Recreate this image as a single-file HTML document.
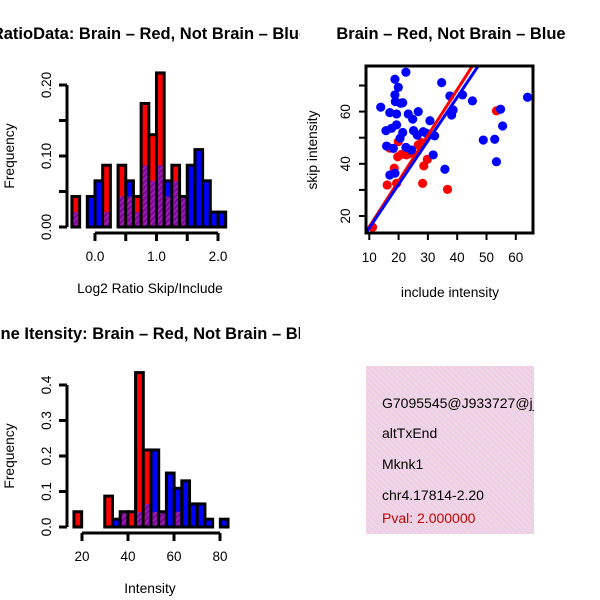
<!DOCTYPE html>
<html><head><meta charset="utf-8"><style>
html,body{margin:0;padding:0;background:#fff}
svg{display:block;font-family:"Liberation Sans",sans-serif}
</style></head><body>
<svg width="600" height="600" viewBox="0 0 600 600" id="fig">
<defs>
<pattern id="hatch" width="4" height="4" patternUnits="userSpaceOnUse" patternTransform="rotate(45)">
<rect width="4" height="4" fill="#7a0a98"/><rect width="1.5" height="4" fill="#a020b8"/>
</pattern>
<pattern id="pinkhatch" width="4" height="4" patternUnits="userSpaceOnUse" patternTransform="rotate(-45)">
<rect width="4" height="4" fill="#f6d0f0"/><rect width="1.2" height="4" fill="#ddd8cc"/>
</pattern>
<clipPath id="c1"><rect x="0" y="0" width="300" height="300"/></clipPath>
<clipPath id="c3"><rect x="0" y="300" width="300" height="300"/></clipPath>
<clipPath id="cs"><rect x="366" y="66" width="167" height="167"/></clipPath>
<clipPath id="cb"><rect x="366" y="366" width="168" height="168"/></clipPath>
</defs>
<g id="p1" clip-path="url(#c1)"></g>
<g id="p2"></g>
<g id="p3" clip-path="url(#c3)"></g>
<g id="p4">
<rect x="366" y="366" width="168" height="168" fill="url(#pinkhatch)"/>
<g clip-path="url(#cb)" font-size="14">
<text x="382" y="408">G7095545@J933727@j_2</text>
<text x="382" y="438">altTxEnd</text>
<text x="382" y="469">Mknk1</text>
<text x="382" y="500">chr4.17814-2.20</text>
<text x="382" y="523" fill="#c00000">Pval: 2.000000</text>
</g>
</g>
</svg>
<script>
// ---- Histogram 1 data (Log2 ratio) ----
const h1Start = -0.375;
const h1Width = 0.125;
const h1Red = [0.043,0,0,0,0.087,0,0.087,0.043,0.043,0.174,0.130,0.217,0.043,0.087,0.043,0,0,0,0,0];
const h1Blue = [0.021,0,0.043,0.065,0.021,0,0.043,0.065,0.021,0.087,0.065,0.087,0.065,0.065,0.043,0.087,0.109,0.065,0.021,0.021];
const h1XTicks = [0,0.5,1,1.5,2];
const h1XLabels = ["0.0","","1.0","","2.0"];
const h1YTicks = [0,0.05,0.1,0.15,0.2];
const h1YLabels = ["0.00","","0.10","","0.20"];
// ---- Histogram 2 data (Intensity) ----
const h2Start = 16.5;
const h2Width = 3.35;
const h2Red = [0.043,0,0,0,0.087,0,0.043,0.043,0.435,0.217,0.043,0.043,0,0.043,0,0,0,0,0,0];
const h2Blue = [0,0,0,0,0,0.022,0.043,0,0.043,0.065,0.217,0.043,0.152,0.109,0.130,0.065,0.065,0.022,0,0.022];
const h2XTicks = [20,40,60,80];
const h2XLabels = ["20","40","60","80"];
const h2YTicks = [0,0.1,0.2,0.3,0.4];
const h2YLabels = ["0.0","0.1","0.2","0.3","0.4"];
// ---- Scatter data ----
const redX = [11.1,16.1,18.5,19.7,19.9,21,22.7,23.9,17,26.7,27.8,28.6,29.8,28.2,36.7,53.4,19.3];
const redY = [15.7,31.9,38.3,42.7,48.5,43.6,43.4,44,46,47.2,48.1,39.2,41.7,32.5,30.2,60.3,32.5];
const blueX = [22.5,18.75,19.9,18.75,18.9,20.7,21.4,13.9,17,19.3,23.3,24.8,26.7,30.7,34.7,37.5,41.8,45.2,38.6,38.1,15.7,17.6,19.3,21.4,25.1,28.4,26.4,29.5,32.3,20.5,15.9,18.2,22.5,24.4,31.8,35.8,17,18.75,48.9,52.8,53.4,55.5,54.8,64];
const blueY = [75.1,72.4,69.3,66.4,63.8,63.2,63.4,61.7,59.6,59.1,59.1,57.1,60,56.5,71.1,66,66.4,64.1,60.6,58.7,52.7,53.6,54.9,52,52.7,52.3,51,51.7,50.7,49.8,46.8,45.9,46.3,45.3,43.4,37.9,35.7,36.4,49.1,49.4,40.8,54.5,60.9,65.5];
const redFit = [-1.6, 1.75];   // intercept, slope
const blueFit = [-1.3, 1.67];
const sXTicks = [10,20,30,40,50,60];
const sYTicks = [20,30,40,50,60,70];
const sYLabels = ["20","","40","","60",""];

const NS = "http://www.w3.org/2000/svg";
function mk(parent, tag, attrs){const e=document.createElementNS(NS,tag);for(const k in attrs)e.setAttribute(k,attrs[k]);parent.appendChild(e);return e;}

function hist(g, start, width, red, blue, sx, sy, xt, xl, yt, yl, axY, axX, xlab, ylab, title, tx){
  const y0 = sy(0);
  for(let i=0;i<red.length;i++){
    const r=red[i], b=blue[i], mx=Math.max(r,b), mn=Math.min(r,b);
    const x1=sx(start+i*width), x2=sx(start+(i+1)*width);
    const col = r>b ? "#ff0000" : (b>r ? "#0000ff" : "url(#hatch)");
    const bar = mk(g,"rect",{x:x1,y:sy(mx),width:x2-x1,height:y0-sy(mx),fill:col,stroke:"#000","stroke-width":3});
    
    
    if(mn>0 && r!==b){
      const ov = mk(g,"rect",{x:x1+1.5,y:sy(mn),width:x2-x1-3,height:y0-sy(mn)-1.5,fill:"url(#hatch)"});
      
      
    }
  }
  const ya = mk(g,"line",{x1:axX,x2:axX,y1:sy(yt[0]),y2:sy(yt[yt.length-1]),stroke:"#000","stroke-width":3});
  
  
  yt.forEach((v,i)=>{
    mk(g,"line",{x1:axX-8,x2:axX,y1:sy(v),y2:sy(v),stroke:"#000","stroke-width":3});
    if(yl[i]){const t=mk(g,"text",{x:0,y:0,"font-size":13.5,"text-anchor":"middle",transform:`translate(${axX-16},${sy(v)}) rotate(-90)`});t.textContent=yl[i];
      
      }
  });
  const xa = mk(g,"line",{x1:sx(xt[0]),x2:sx(xt[xt.length-1]),y1:axY,y2:axY,stroke:"#000","stroke-width":3});
  
  
  xt.forEach((v,i)=>{
    mk(g,"line",{x1:sx(v),x2:sx(v),y1:axY,y2:axY+8,stroke:"#000","stroke-width":3});
    if(xl[i]){const t=mk(g,"text",{x:sx(v),y:axY+28,"font-size":13.5,"text-anchor":"middle"});t.textContent=xl[i];
      
      }
  });
  const a=mk(g,"text",{x:150,y:axY+60,"font-size":13.8,"text-anchor":"middle"});a.textContent=xlab;
  
  
  const b=mk(g,"text",{x:0,y:0,"font-size":13.8,"text-anchor":"middle",transform:`translate(14,${(sy(0)+sy(yt[yt.length-1]))/2}) rotate(-90)`});b.textContent=ylab;
  
  
  const t=mk(g,"text",{x:150,y:tx,"font-size":16.5,"font-weight":"bold","text-anchor":"middle"});t.textContent=title;
  
  
}

const p1=document.getElementById("p1");
hist(p1,h1Start,h1Width,h1Red,h1Blue,v=>95+v*61.5,v=>227-v*710,h1XTicks,h1XLabels,h1YTicks,h1YLabels,233,67,
  "Log2 Ratio Skip/Include","Frequency","RatioData: Brain \u2013 Red, Not Brain \u2013 Blue",39);
const p3=document.getElementById("p3");
hist(p3,h2Start,h2Width,h2Red,h2Blue,v=>82+(v-20)*2.3,v=>527-v*355,h2XTicks,h2XLabels,h2YTicks,h2YLabels,533,67,
  "Intensity","Frequency","Gene Itensity: Brain \u2013 Red, Not Brain \u2013 Blue",339);

const p2=document.getElementById("p2");
const sx=v=>369.3+(v-10)*2.93, sy=v=>216-(v-20)*2.61;
const clip=mk(p2,"g",{"clip-path":"url(#cs)"});
redX.forEach((x,i)=>{const c=mk(clip,"circle",{cx:sx(x),cy:sy(redY[i]),r:4.6,fill:"#ff0000"});
  
  });
blueX.forEach((x,i)=>{const c=mk(clip,"circle",{cx:sx(x),cy:sy(blueY[i]),r:4.6,fill:"#0000ff"});
  
  });
[[redFit,"#ff0000","red-fit-line"],[blueFit,"#0000ff","blue-fit-line"]].forEach(([f,col,nm])=>{
  const l=mk(clip,"line",{x1:sx(0),y1:sy(f[0]),x2:sx(70),y2:sy(f[0]+f[1]*70),stroke:col,"stroke-width":3});
  
  
});
const box=mk(p2,"rect",{x:366,y:66,width:167,height:167,fill:"none",stroke:"#000","stroke-width":3});


sXTicks.forEach(v=>{mk(p2,"line",{x1:sx(v),x2:sx(v),y1:233,y2:240,stroke:"#000","stroke-width":2});
  const t=mk(p2,"text",{x:sx(v),y:262,"font-size":13.5,"text-anchor":"middle"});t.textContent=String(v);
  
  });
sYTicks.forEach((v,i)=>{mk(p2,"line",{x1:359,x2:366,y1:sy(v),y2:sy(v),stroke:"#000","stroke-width":2});
  if(sYLabels[i]){const t=mk(p2,"text",{x:0,y:0,"font-size":13.5,"text-anchor":"middle",transform:`translate(${350},${sy(v)}) rotate(-90)`});t.textContent=sYLabels[i];
  
  }});
let t=mk(p2,"text",{x:450,y:297,"font-size":13.8,"text-anchor":"middle"});t.textContent="include intensity";


t=mk(p2,"text",{x:0,y:0,"font-size":13.8,"text-anchor":"middle",transform:"translate(317,150) rotate(-90)"});t.textContent="skip intensity";


t=mk(p2,"text",{x:451,y:39,"font-size":16.5,"font-weight":"bold","text-anchor":"middle"});t.textContent="Brain \u2013 Red, Not Brain \u2013 Blue";


</script>
</body></html>
